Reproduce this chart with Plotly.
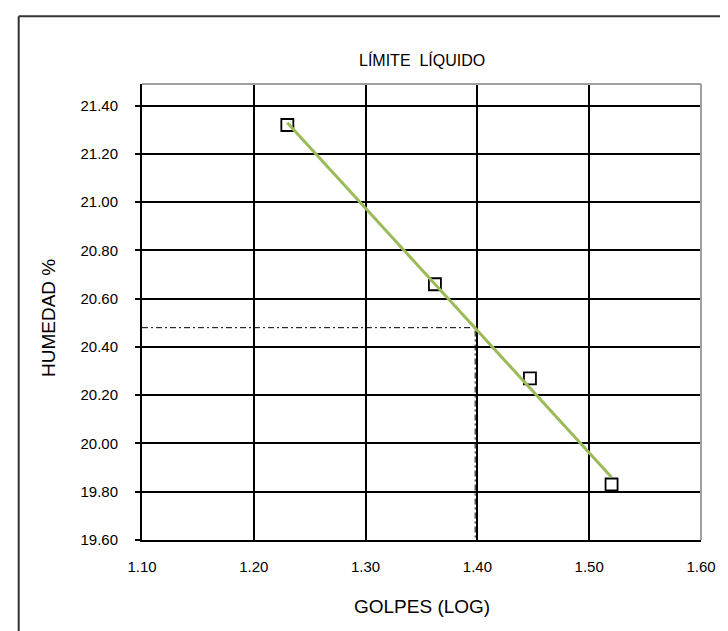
import numpy as np
import plotly.graph_objects as go

# Data
golpes_log = [1.230, 1.362, 1.447, 1.520]
humedad = [21.32, 20.66, 20.27, 19.83]
ll_x = 1.398   # log10(25)
ll_y = 20.48

x_ticks = [1.10, 1.20, 1.30, 1.40, 1.50, 1.60]
y_ticks = [19.60, 19.80, 20.00, 20.20, 20.40, 20.60, 20.80, 21.00, 21.20, 21.40]

FONT = "Liberation Sans Narrow, Arial Narrow, Liberation Sans, Arial, sans-serif"

# pixel geometry of plot area
L, R, T, B = 134, 693, 76, 532
W, H = 728, 631


def px(xp):
    return (xp - L) / (R - L)


def py(yp):
    return (B - yp) / (B - T)


# linear trend line (least squares)
slope, intercept = np.polyfit(golpes_log, humedad, 1)
tx = [min(golpes_log), max(golpes_log)]
ty = [slope * v + intercept for v in tx]

fig = go.Figure()

# reference lines for liquid limit
fig.add_trace(go.Scatter(x=[x_ticks[0], ll_x, ll_x], y=[ll_y, ll_y, y_ticks[0]],
                         mode="lines", line=dict(color="black", width=1, dash="6px,3px,2px,3px"),
                         hoverinfo="skip", showlegend=False))

fig.add_trace(go.Scatter(x=golpes_log, y=humedad, mode="markers",
                         marker=dict(symbol="square-open", size=12, color="black",
                                     line=dict(color="black", width=1.8)),
                         showlegend=False))

fig.add_trace(go.Scatter(x=tx, y=ty, mode="lines",
                         line=dict(color="#9BBB59", width=3), showlegend=False))

fig.update_layout(
    width=W, height=H,
    margin=dict(l=L, r=W - R, t=T, b=H - B),
    paper_bgcolor="white", plot_bgcolor="white",
    font=dict(family=FONT, color="black", size=15),
    xaxis=dict(range=[1.10, 1.60], tickvals=x_ticks, tickformat=".2f",
               showgrid=True, gridcolor="black", gridwidth=1.5,
               showline=True, linecolor="black", linewidth=2,
               ticks="", zeroline=False, ticklabelstandoff=12,
               tickfont=dict(family=FONT, size=15)),
    yaxis=dict(range=[19.60, 21.49], tickvals=y_ticks, tickformat=".2f",
               showgrid=True, gridcolor="black", gridwidth=1.5,
               showline=True, linecolor="black", linewidth=2,
               ticks="outside", ticklen=5, tickwidth=1.5, tickcolor="black",
               zeroline=False, ticklabelstandoff=14,
               tickfont=dict(family=FONT, size=15)),
    annotations=[
        dict(text="LÍMITE  LÍQUIDO", xref="paper", yref="paper", x=px(413.5), y=py(52),
             xanchor="center", yanchor="middle", showarrow=False,
             font=dict(family=FONT, size=16, color="black")),
        dict(text="GOLPES (LOG)", xref="paper", yref="paper", x=px(413.5), y=py(598),
             xanchor="center", yanchor="middle", showarrow=False,
             font=dict(family=FONT, size=19, color="black")),
        dict(text="HUMEDAD %", xref="paper", yref="paper", x=px(40), y=py(310),
             xanchor="center", yanchor="middle", showarrow=False, textangle=-90,
             font=dict(family=FONT, size=19, color="black")),
    ],
    shapes=[
        # gray top and right plot-area border
        dict(type="line", xref="paper", yref="paper", x0=0, x1=1, y0=1, y1=1,
             line=dict(color="#A0A0A0", width=2), layer="above"),
        dict(type="line", xref="paper", yref="paper", x0=1, x1=1, y0=0, y1=1,
             line=dict(color="#A0A0A0", width=2), layer="above"),
        # outer chart border (cut off at right/bottom)
        dict(type="line", xref="paper", yref="paper", x0=px(10.7), x1=px(760), y0=py(8.3), y1=py(8.3),
             line=dict(color="#333333", width=2)),
        dict(type="line", xref="paper", yref="paper", x0=px(10.7), x1=px(10.7), y0=py(660), y1=py(8.3),
             line=dict(color="#333333", width=2)),
    ],
)

fig.write_html("out.html")
